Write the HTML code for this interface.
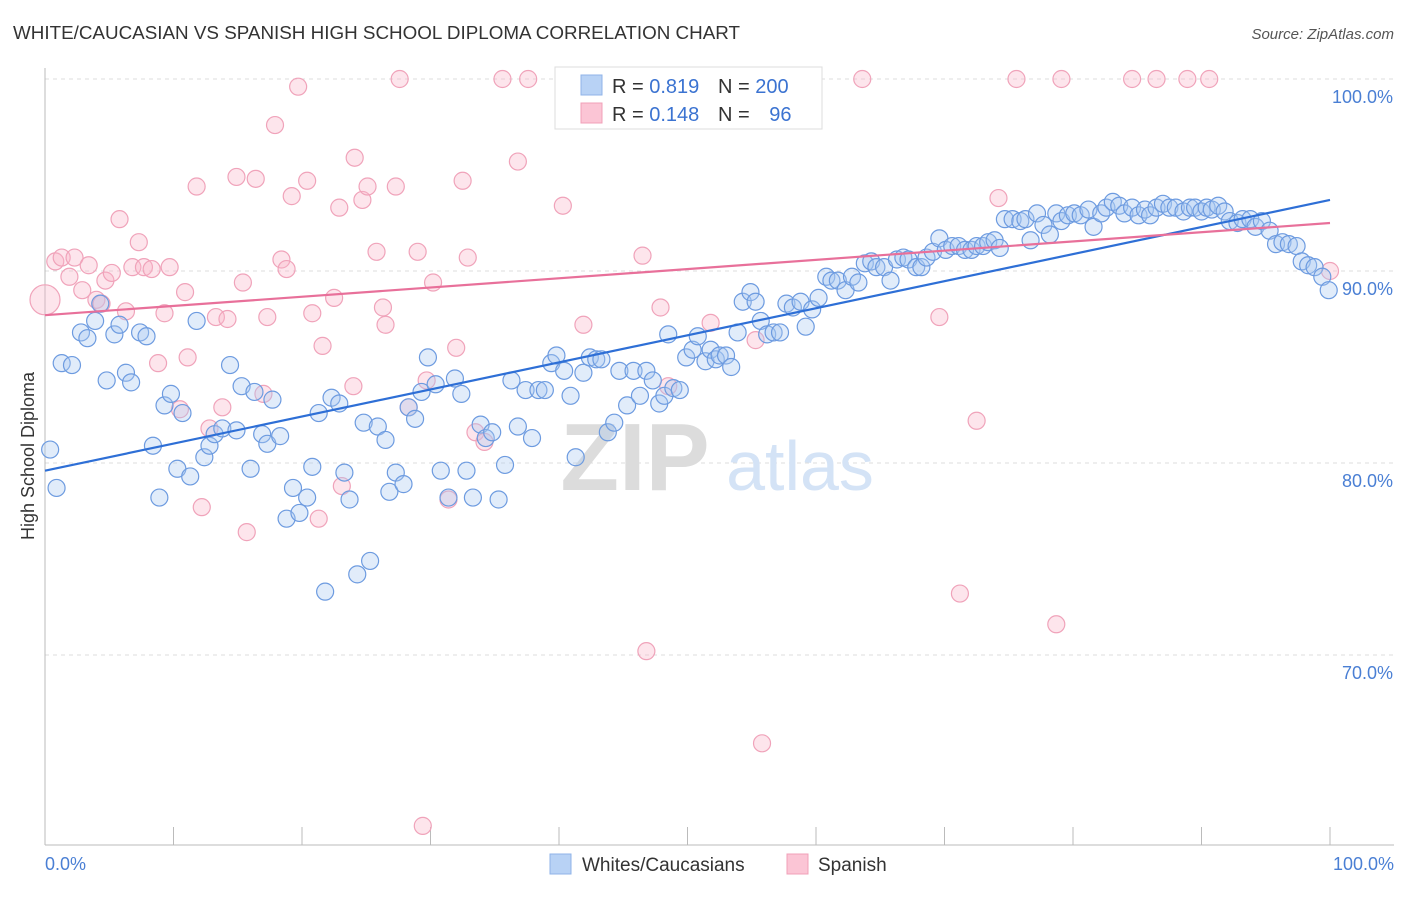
<!DOCTYPE html>
<html><head><meta charset="utf-8"><style>
body{margin:0;background:#fff;font-family:"Liberation Sans",sans-serif}
svg text{font-family:"Liberation Sans",sans-serif}
</style></head><body>
<svg id="chart" width="1406" height="892" xmlns="http://www.w3.org/2000/svg">
<text x="13" y="39" font-size="18" fill="#333" textLength="727" lengthAdjust="spacingAndGlyphs">WHITE/CAUCASIAN VS SPANISH HIGH SCHOOL DIPLOMA CORRELATION CHART</text>
<text x="1394" y="39" font-size="15" fill="#555" text-anchor="end" font-style="italic">Source: ZipAtlas.com</text>
<g id="grid"></g>
<g id="ylabels"></g>
<g id="xticks"></g>
<line x1="45" y1="845" x2="1394" y2="845" stroke="#bbb" stroke-width="1"/>
<line x1="45" y1="68" x2="45" y2="845" stroke="#bbb" stroke-width="1"/>
<text x="635" y="490" font-size="96" fill="#dcdcdc" text-anchor="middle" font-family="Liberation Serif" font-weight="bold">ZIP</text>
<text x="800" y="490" font-size="70" fill="#d4e3f6" text-anchor="middle">atlas</text>
<text transform="translate(34,456) rotate(-90)" font-size="18" fill="#333" text-anchor="middle">High School Diploma</text>
<text x="45" y="870" font-size="18" fill="#4a7fd4">0.0%</text>
<text x="1394" y="870" font-size="18" fill="#4a7fd4" text-anchor="end">100.0%</text>
<g id="pink"></g>
<g id="blue"></g>
<g id="trends"></g>
<g>
<rect x="555" y="67" width="267" height="62" fill="#fff" stroke="#ddd"/>
<rect x="581" y="75" width="21" height="20" fill="#b8d2f5" stroke="#8fb3e8"/>
<rect x="581" y="103" width="21" height="20" fill="#fbc5d5" stroke="#f0a0b8"/>
<text x="612" y="93" font-size="20" fill="#333">R = <tspan fill="#3b73d1">0.819</tspan></text>
<text x="718" y="93" font-size="20" fill="#333">N = <tspan fill="#3b73d1">200</tspan></text>
<text x="612" y="121" font-size="20" fill="#333">R = <tspan fill="#3b73d1">0.148</tspan></text>
<text x="718" y="121" font-size="20" fill="#333">N = <tspan fill="#3b73d1" dx="14">96</tspan></text>
</g>
<g>
<rect x="550" y="854" width="21" height="20" fill="#b8d2f5" stroke="#8fb3e8"/>
<text x="582" y="871" font-size="19" fill="#333">Whites/Caucasians</text>
<rect x="787" y="854" width="21" height="20" fill="#fbc5d5" stroke="#f0a0b8"/>
<text x="818" y="871" font-size="19" fill="#333">Spanish</text>
</g>
</svg>
<script>
const yTicks=[100,90,80,70];
const yTickLabels=["100.0%","90.0%","80.0%","70.0%"];
const xTicks=[0,10,20,30,40,50,60,70,80,90,100];
const blueX=[0.4,0.9,1.3,2.1,2.8,3.3,3.9,4.3,4.8,5.4,5.8,6.3,6.7,7.4,7.9,8.4,8.9,9.3,9.8,10.3,10.7,11.3,11.8,12.4,12.8,13.2,13.8,14.4,14.9,15.3,16.0,16.3,16.9,17.3,17.7,18.3,18.8,19.3,19.8,20.4,20.8,21.3,21.8,22.3,22.9,23.3,23.7,24.3,24.8,25.3,25.9,26.5,26.8,27.3,27.9,28.3,28.8,29.3,29.8,30.4,30.8,31.4,31.9,32.4,32.8,33.3,33.9,34.3,34.8,35.3,35.8,36.3,36.8,37.4,37.9,38.4,38.9,39.4,39.8,40.4,40.9,41.3,41.9,42.4,42.9,43.3,43.8,44.3,44.7,45.3,45.8,46.3,46.8,47.3,47.8,48.2,48.5,48.9,49.4,49.9,50.4,50.8,51.4,51.8,52.2,52.5,53.0,53.4,53.9,54.3,54.9,55.3,55.7,56.2,56.7,57.2,57.7,58.2,58.8,59.2,59.7,60.2,60.8,61.2,61.7,62.3,62.8,63.3,63.8,64.3,64.7,65.3,65.8,66.3,66.8,67.2,67.8,68.2,68.6,69.1,69.6,70.1,70.6,71.1,71.6,72.1,72.5,73.0,73.4,73.9,74.3,74.7,75.3,75.9,76.3,76.7,77.2,77.7,78.2,78.7,79.1,79.6,80.1,80.6,81.2,81.6,82.2,82.6,83.1,83.6,84.0,84.6,85.1,85.6,86.0,86.5,87.0,87.5,88.0,88.6,89.1,89.5,90.0,90.4,90.8,91.3,91.8,92.2,92.8,93.2,93.8,94.2,94.7,95.3,95.8,96.3,96.8,97.4,97.8,98.3,98.8,99.4,99.9];
const blueY=[80.7,78.7,85.2,85.1,86.8,86.5,87.4,88.3,84.3,86.7,87.2,84.7,84.2,86.8,86.6,80.9,78.2,83.0,83.6,79.7,82.6,79.3,87.4,80.3,80.9,81.5,81.8,85.1,81.7,84.0,79.7,83.7,81.5,81.0,83.3,81.4,77.1,78.7,77.4,78.2,79.8,82.6,73.3,83.4,83.1,79.5,78.1,74.2,82.1,74.9,81.9,81.2,78.5,79.5,78.9,82.9,82.3,83.7,85.5,84.1,79.6,78.2,84.4,83.6,79.6,78.2,82.0,81.3,81.6,78.1,79.9,84.3,81.9,83.8,81.3,83.8,83.8,85.2,85.6,84.8,83.5,80.3,84.7,85.5,85.4,85.4,81.6,82.1,84.8,83.0,84.8,83.5,84.8,84.3,83.1,83.5,86.7,83.9,83.8,85.5,85.9,86.6,85.3,85.9,85.4,85.6,85.6,85.0,86.8,88.4,88.9,88.4,87.4,86.7,86.8,86.8,88.3,88.1,88.4,87.1,88.0,88.6,89.7,89.5,89.5,89.0,89.7,89.4,90.4,90.5,90.2,90.2,89.5,90.6,90.7,90.6,90.2,90.2,90.7,91.0,91.7,91.1,91.3,91.3,91.1,91.1,91.3,91.3,91.5,91.6,91.2,92.7,92.7,92.6,92.7,91.6,93.0,92.4,91.9,93.0,92.6,92.9,93.0,92.9,93.2,92.3,93.0,93.3,93.6,93.4,93.0,93.3,92.9,93.2,92.9,93.3,93.5,93.3,93.3,93.1,93.3,93.3,93.1,93.3,93.2,93.4,93.1,92.6,92.5,92.7,92.7,92.3,92.6,92.1,91.4,91.5,91.4,91.3,90.5,90.3,90.2,89.7,89.0];
const pinkX=[0,0.8,1.3,1.9,2.3,2.9,3.4,4.0,4.4,4.7,5.2,5.8,6.3,6.8,7.3,7.7,8.3,8.8,9.3,9.7,10.5,10.9,11.1,11.8,12.2,12.8,13.3,13.8,14.2,14.9,15.4,15.7,16.4,17.0,17.3,17.9,18.4,18.8,19.2,19.7,20.4,20.8,21.3,21.6,22.5,22.9,23.1,24.0,24.1,24.7,25.1,25.8,26.3,26.5,27.3,27.6,28.3,29.0,29.4,29.7,30.2,31.4,32.0,32.5,32.9,33.5,34.2,35.6,36.8,37.6,40.3,41.9,46.5,46.8,47.9,48.5,51.8,51.9,52.5,55.3,55.8,63.6,69.6,71.2,72.5,74.2,75.6,78.7,79.1,84.6,86.5,88.9,90.6,100];
const pinkY=[88.5,90.5,90.7,89.7,90.7,89.0,90.3,88.5,88.3,89.5,89.9,92.7,87.9,90.2,91.5,90.2,90.1,85.2,87.8,90.2,82.8,88.9,85.5,94.4,77.7,81.8,87.6,82.9,87.5,94.9,89.4,76.4,94.8,83.6,87.6,97.6,90.6,90.1,93.9,99.6,94.7,87.8,77.1,86.1,88.6,93.3,78.8,84.0,95.9,93.7,94.4,91.0,88.1,87.2,94.4,100,82.9,91.0,61.1,84.3,89.4,78.1,86.0,94.7,90.7,81.6,81.1,100,95.7,100,93.4,87.2,90.8,70.2,88.1,84.0,87.3,100,100,86.4,65.4,100,87.6,73.2,82.2,93.8,100,71.6,100,100,100,100,100,90.0];
const blueTrend=[79.6,93.7];
const pinkTrend=[87.7,92.5];
const NS='http://www.w3.org/2000/svg';
const X=v=>45+v*12.85;
const Y=v=>79+(100-v)*19.2;
function mk(tag,attrs,parent){const e=document.createElementNS(NS,tag);for(const k in attrs)e.setAttribute(k,attrs[k]);parent.appendChild(e);return e;}
const grid=document.getElementById('grid'),yl=document.getElementById('ylabels'),xt=document.getElementById('xticks');
yTicks.forEach((t,i)=>{
 const l=mk('line',{x1:45,x2:1394,y1:Y(t),y2:Y(t),stroke:'#ddd','stroke-dasharray':'4,4'},grid);
 
 
 const tx=mk('text',{x:1393,y:Y(t)+24,'font-size':18,fill:'#4a7fd4','text-anchor':'end'},yl);
 tx.textContent=yTickLabels[i];
 
 
});
xTicks.forEach(t=>{
 const l=mk('line',{x1:X(t),x2:X(t),y1:827,y2:845,stroke:'#bbb'},xt);
 
 
});
const pg=document.getElementById('pink');
pinkX.forEach((x,i)=>{
 const c=mk('circle',{cx:X(x),cy:Y(pinkY[i]),r:i===0?15:8.5,fill:'rgba(248,180,200,0.35)',stroke:'#f0a3ba','stroke-width':1.2},pg);
 
 
});
const bg=document.getElementById('blue');
blueX.forEach((x,i)=>{
 const c=mk('circle',{cx:X(x),cy:Y(blueY[i]),r:8.5,fill:'rgba(170,200,240,0.35)',stroke:'#6d9be0','stroke-width':1.2},bg);
 
 
});
const tg=document.getElementById('trends');
const bl=mk('line',{x1:X(0),y1:Y(blueTrend[0]),x2:X(100),y2:Y(blueTrend[1]),stroke:'#2e6fd6','stroke-width':2.2},tg);


const pl=mk('line',{x1:X(0),y1:Y(pinkTrend[0]),x2:X(100),y2:Y(pinkTrend[1]),stroke:'#e8709a','stroke-width':2.2},tg);


</script>
</body></html>
